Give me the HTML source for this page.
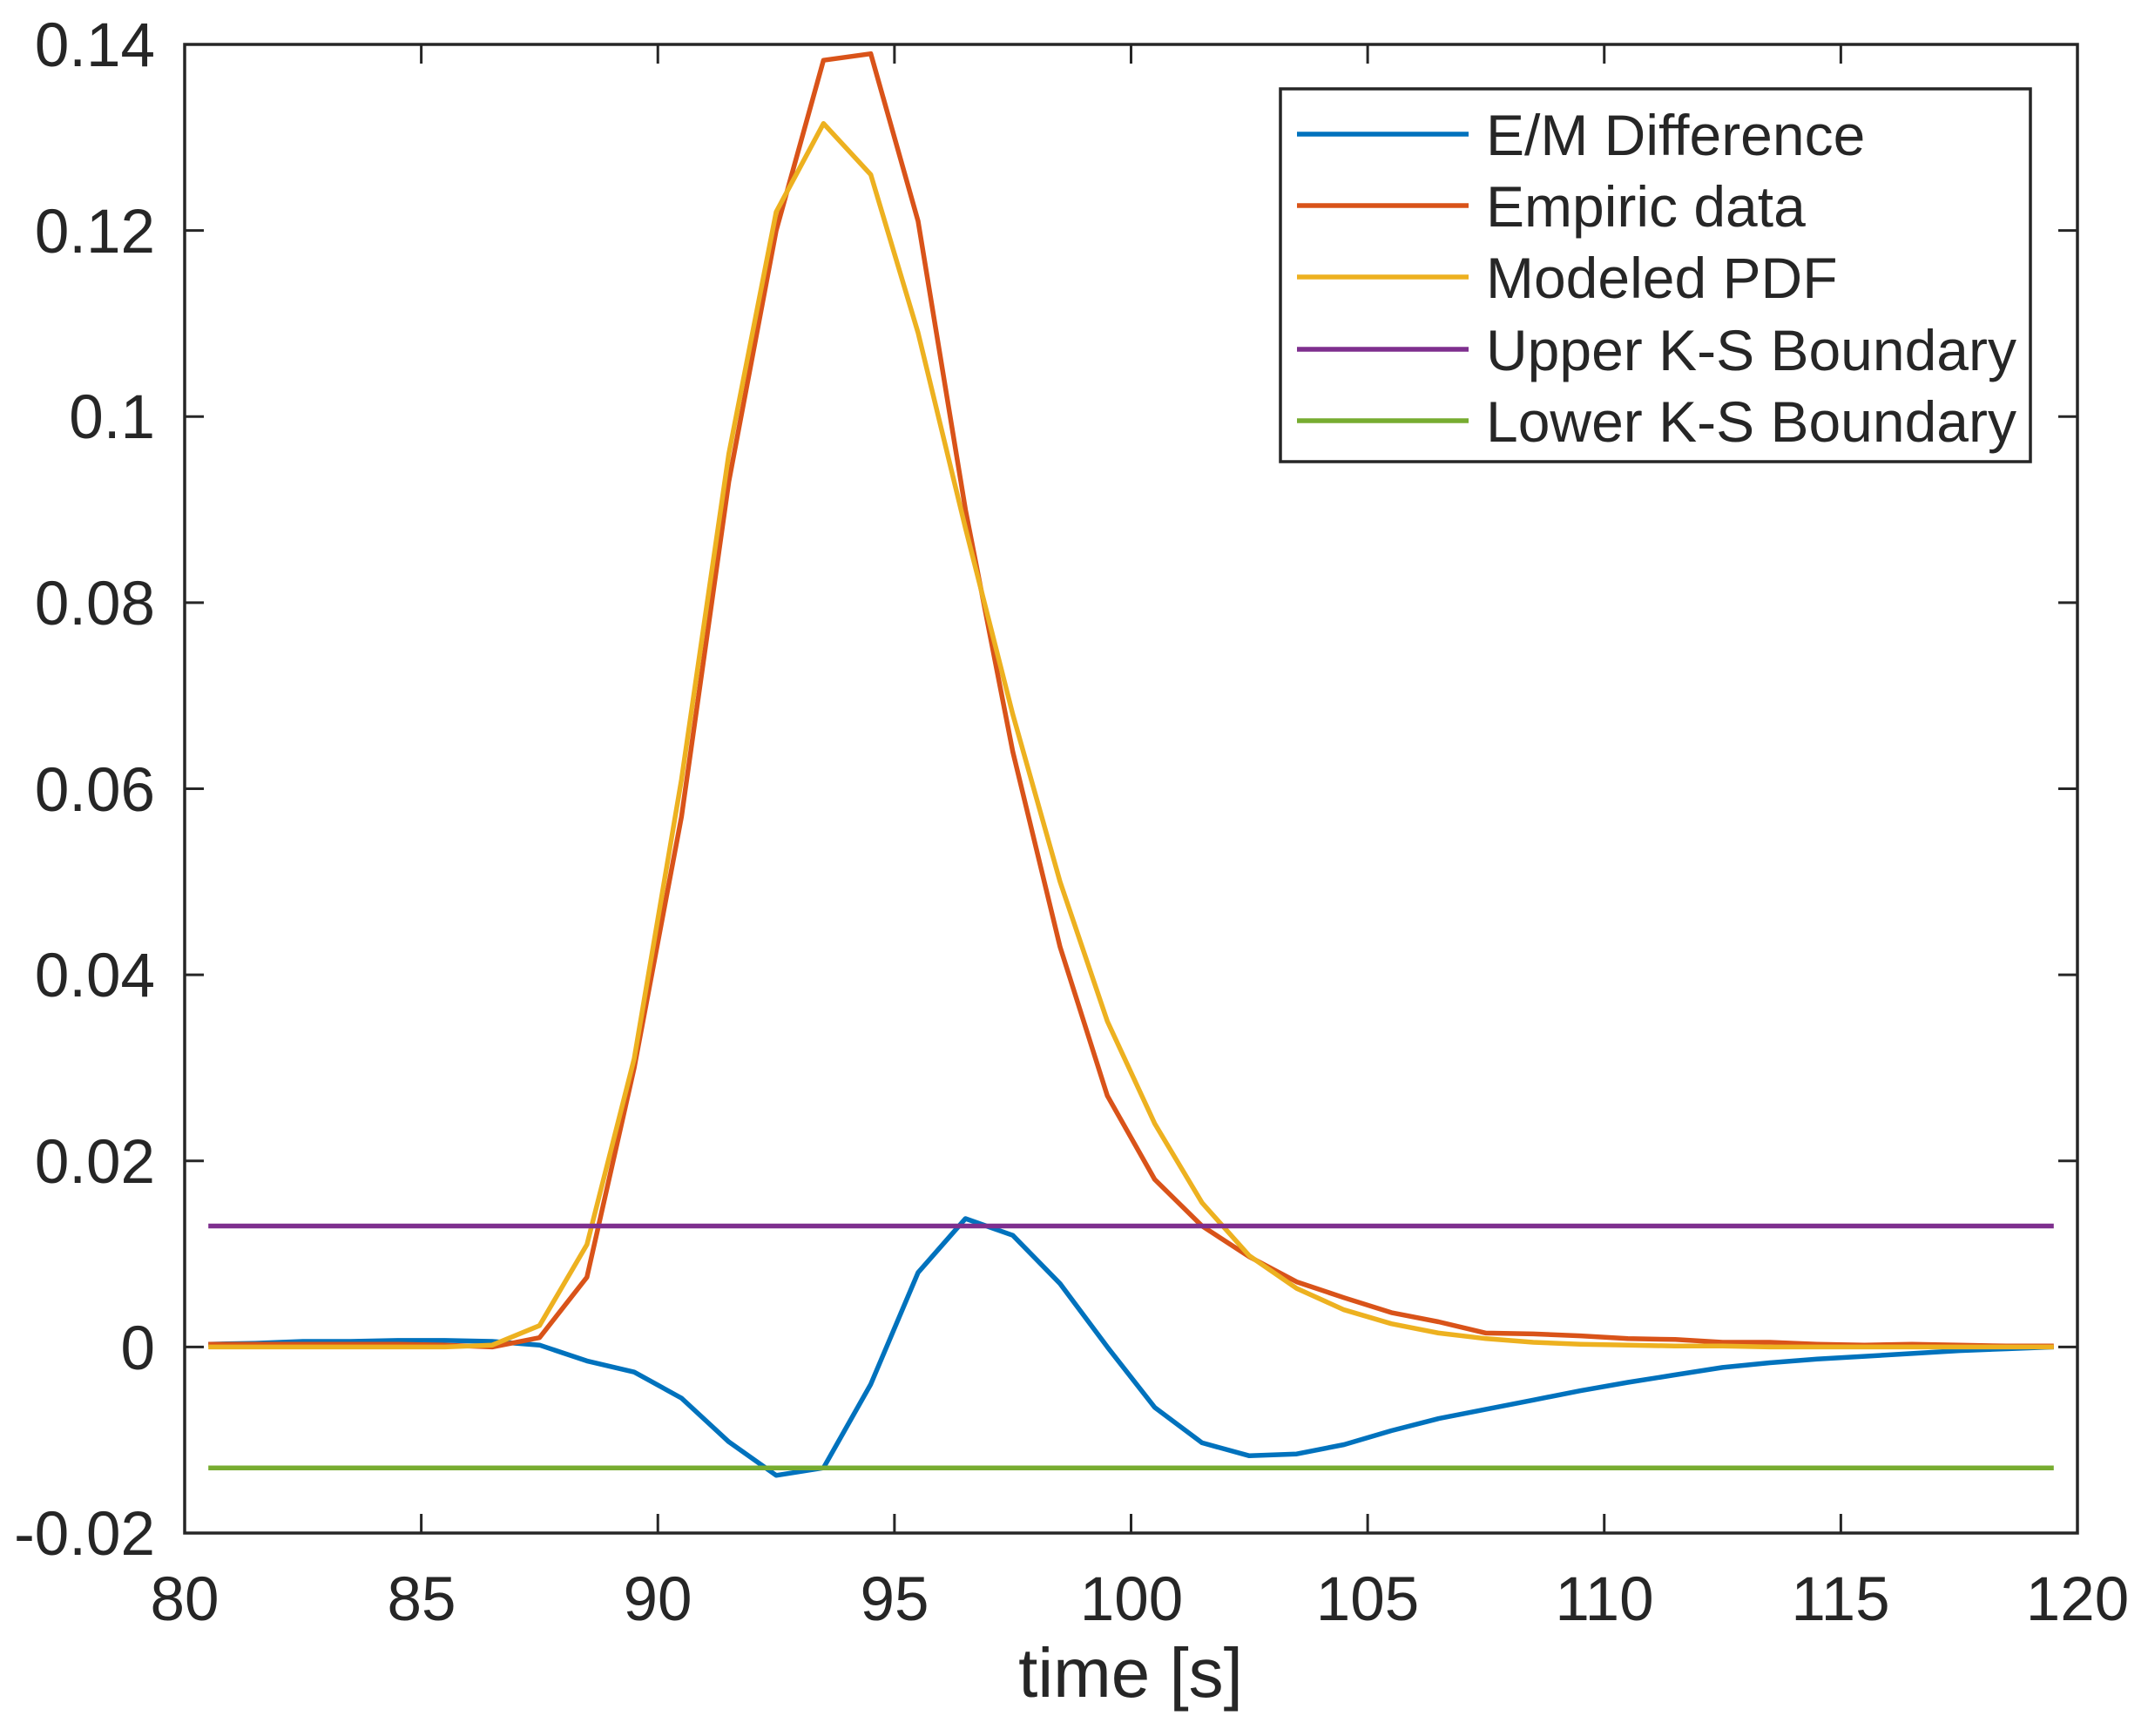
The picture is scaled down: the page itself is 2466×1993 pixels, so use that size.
<!DOCTYPE html>
<html><head><meta charset="utf-8"><style>
html,body{margin:0;padding:0;background:#fff;}
svg{display:block;}
text{font-family:"Liberation Sans",Arial,sans-serif;fill:#262626;}
</style></head><body>
<svg id="s" width="2466" height="1993" viewBox="0 0 2466 1993" xmlns="http://www.w3.org/2000/svg">
<rect width="2466" height="1993" fill="#fff"/>
<g id="ticks" stroke="#262626" stroke-width="3"></g>
<g id="series" fill="none" stroke-width="5.5" stroke-linejoin="round"></g>
<rect x="212" y="51" width="2173" height="1709" fill="none" stroke="#262626" stroke-width="3.5"/>
<g font-size="71" text-anchor="end">
<text x="178" y="76">0.14</text>
<text x="178" y="290">0.12</text>
<text x="178" y="503">0.1</text>
<text x="178" y="717">0.08</text>
<text x="178" y="931">0.06</text>
<text x="178" y="1144">0.04</text>
<text x="178" y="1358">0.02</text>
<text x="178" y="1572">0</text>
<text x="178" y="1785">-0.02</text>
</g>
<g font-size="71" text-anchor="middle">
<text x="212" y="1860">80</text>
<text x="484" y="1860">85</text>
<text x="755" y="1860">90</text>
<text x="1027" y="1860">95</text>
<text x="1299" y="1860">100</text>
<text x="1570" y="1860">105</text>
<text x="1842" y="1860">110</text>
<text x="2113" y="1860">115</text>
<text x="2385" y="1860">120</text>
<text x="1298" y="1948" font-size="80">time [s]</text>
</g>
<rect x="1470" y="102" width="861" height="428" fill="#fff" stroke="#262626" stroke-width="3.5"/>
<g stroke-width="5.5">
<line x1="1489" y1="154" x2="1686" y2="154" stroke="#0072BD"/>
<line x1="1489" y1="236" x2="1686" y2="236" stroke="#D95319"/>
<line x1="1489" y1="318" x2="1686" y2="318" stroke="#EDB120"/>
<line x1="1489" y1="401" x2="1686" y2="401" stroke="#7E2F8E"/>
<line x1="1489" y1="483" x2="1686" y2="483" stroke="#77AC30"/>
</g>
<g font-size="66">
<text x="1706" y="178">E/M Difference</text>
<text x="1706" y="260">Empiric data</text>
<text x="1706" y="342">Modeled PDF</text>
<text x="1706" y="425">Upper K-S Boundary</text>
<text x="1706" y="507">Lower K-S Boundary</text>
</g>
</svg>
<script>
var X=function(t){return 212+(t-80)*2173/40;};
var Y=function(v){return 1760-(v+0.02)*1709/0.16;};
var ns="http://www.w3.org/2000/svg";
var tk=document.getElementById('ticks'),d='';
for(var t=80;t<=120;t+=5){var x=X(t);d+='M'+x+' 1760V1738M'+x+' 51V73';}
for(var v=-0.02;v<=0.1401;v+=0.02){var y=Y(v);d+='M212 '+y+'H234M2385 '+y+'H2363';}
var p=document.createElementNS(ns,'path');p.setAttribute('d',d);tk.appendChild(p);
var E=[0.0003,0.0003,0.0003,0.0003,0.0003,0.0002,0,0.001,0.0075,0.03,0.057,0.093,0.12,0.1383,0.139,0.121,0.09,0.064,0.043,0.027,0.018,0.013,0.0097,0.007,0.0053,0.0037,0.0027,0.0015,0.0014,0.0012,0.0009,0.0008,0.0005,0.0005,0.0003,0.0002,0.0003,0.0002,0.0001,0.0001];
var M=[0,0,0,0,0,0,0.0002,0.0023,0.011,0.031,0.061,0.096,0.122,0.1315,0.126,0.109,0.088,0.068,0.05,0.035,0.024,0.0155,0.0098,0.0063,0.004,0.0025,0.0015,0.0009,0.0005,0.0003,0.0002,0.0001,0.0001,0,0,0,0,0,0,0];
var D=[0.0003,0.0004,0.0006,0.0006,0.0007,0.0007,0.0006,0.0002,-0.0015,-0.0027,-0.0055,-0.0102,-0.0138,-0.013,-0.004,0.008,0.0138,0.012,0.0068,0,-0.0065,-0.0103,-0.0117,-0.0115,-0.0105,-0.009,-0.0077,-0.0067,-0.0057,-0.0047,-0.0038,-0.003,-0.0022,-0.0017,-0.0013,-0.001,-0.0007,-0.0004,-0.0002,0];
var g=document.getElementById('series');
function line(arr,c){var s='';for(var i=0;i<arr.length;i++){s+=(i?'L':'M')+X(80.5+i).toFixed(1)+' '+Y(arr[i]).toFixed(1);}
var p=document.createElementNS(ns,'path');p.setAttribute('d',s);p.setAttribute('stroke',c);g.appendChild(p);}
line(D,'#0072BD');line(E,'#D95319');line(M,'#EDB120');
var U=[],L=[];for(var i=0;i<40;i++){U.push(0.013);L.push(-0.013);}
line(U,'#7E2F8E');line(L,'#77AC30');
</script>
</body></html>
